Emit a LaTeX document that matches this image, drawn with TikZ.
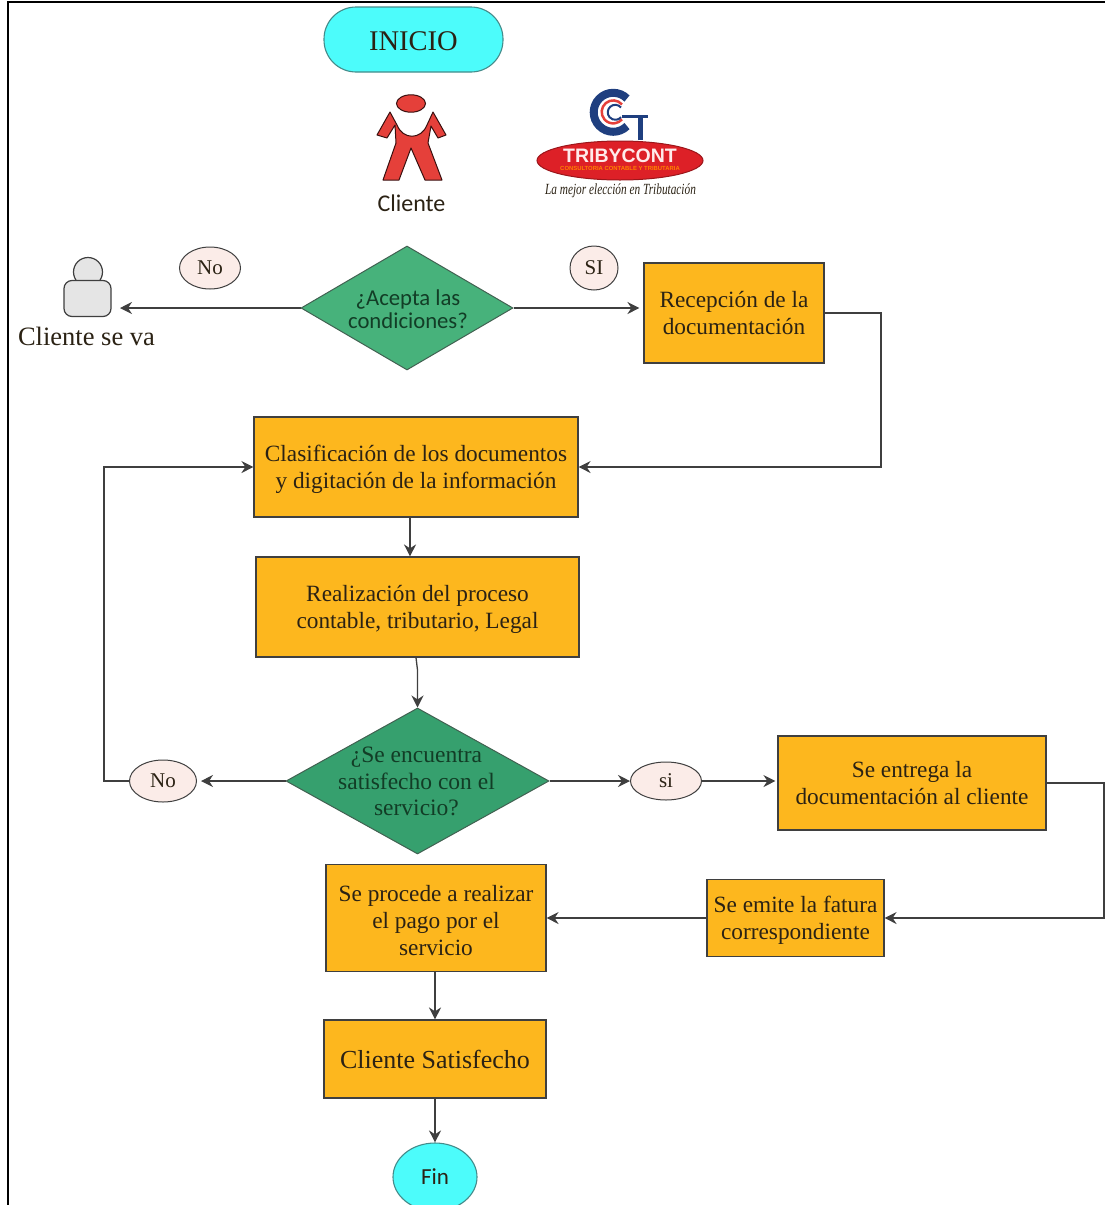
\documentclass[tikz,border=0pt]{standalone}
\usepackage{fontspec}
\setmainfont{Liberation Serif}
\newfontfamily\cuisans{Carlito}
\newfontfamily\logosans{Liberation Sans}
\usetikzlibrary{arrows.meta,shapes.geometric}
\definecolor{boxfill}{HTML}{FDB71E}
\definecolor{dia1}{HTML}{47B27B}
\definecolor{dia2}{HTML}{36A06E}
\definecolor{cyanfill}{HTML}{4CFCFB}
\definecolor{ink}{HTML}{3F3F3F}
\definecolor{txt}{HTML}{2B2214}
\definecolor{greentxt}{HTML}{123D26}
\definecolor{pinkfill}{HTML}{FBECE8}
\definecolor{manred}{HTML}{E5403A}
\definecolor{logoblue}{HTML}{1F3F7F}
\definecolor{logored}{HTML}{DD2027}
\newcommand{\lowered}{\rule{0pt}{20.5pt}}
\tikzset{
  x=1pt,y=-1pt,
  procbox/.style={draw=ink,line width=1.1pt,fill=boxfill,rectangle,inner sep=0pt,align=center,text=txt,font=\fontsize{23.3}{27}\selectfont},
  diam/.style={draw=ink!70!dia1,line width=1pt,diamond,inner sep=0pt,aspect=1.7},
  diamtxt/.style={align=center,text=greentxt,font=\fontsize{23.5}{26.5}\selectfont,inner sep=0pt},
  tag/.style={draw=ink,line width=1pt,fill=pinkfill,ellipse,inner sep=0pt,text=txt,font=\fontsize{21}{22}\selectfont},
  term/.style={draw=ink!60!cyanfill,line width=1.1pt,fill=cyanfill,inner sep=0pt,text=txt},
  flow/.style={draw=ink,line width=1.3pt,-{Stealth[length=12pt,width=12pt]}},
}
\begin{document}
\begin{tikzpicture}
\useasboundingbox (0,0) rectangle (1105,1205);
% frame
\draw[black,line width=2pt] (7.5,1205) -- (7.5,2) -- (1105,2);
% terminals
\node[term,rounded corners=32pt,minimum width=179pt,minimum height=65pt,font=\fontsize{28.5}{30}\selectfont] (inicio) at (413.5,39.5) {\rule{0pt}{21.5pt}INICIO};
\node[term,ellipse,minimum width=84pt,minimum height=68pt,font=\cuisans\fontsize{23}{26}\selectfont] (fin) at (435,1177) {Fin};
% client figure
\draw[fill=manred,draw=black!75!manred,line width=1pt] (411,103.5) ellipse [x radius=14.5,y radius=8.7];
\draw[fill=manred,draw=black!75!manred,line width=1pt,line join=round]
  (390,112) -- (377,135) -- (387,138) -- (395,125) -- (396,143) -- (383,180) -- (399,180) -- (411,148)
  -- (425,180) -- (442,180) -- (428,143) -- (431,126) -- (438,138) -- (446,135) -- (433,112) -- (427,125)
  .. controls (421,140) and (403,140) .. (397,125) -- cycle;
\node[font=\cuisans\fontsize{24}{26}\selectfont,text=txt,inner sep=0pt] (clientelbl) at (411.5,203.5) {Cliente};
% logo
\draw[logoblue,line width=8pt] (627,98.5) arc [start angle=-45,end angle=-315,radius=19.5];
\draw[manred,line width=2.5pt] (622,104.5) arc [start angle=-40,end angle=-320,radius=11.5];
\draw[logoblue,line width=2pt] (621,107.5) arc [start angle=-40,end angle=-320,radius=7.5];
\draw[logoblue,line width=3pt] (622,116) -- (648,116);
\draw[logoblue,line width=5pt] (640,116) -- (640,140);
\draw[fill=logored,draw=black!30!logored,line width=1pt] (620,160.5) ellipse [x radius=83,y radius=19.5];
\node[text=white!92!red,inner sep=0pt,font=\logosans\bfseries\fontsize{19.5}{22}\selectfont] (logoname) at (620,155.5) {TRIBYCONT};
\node[text=orange,inner sep=0pt,font=\logosans\bfseries\fontsize{5.9}{6}\selectfont] (logosub) at (620,168.5) {CONSULTORIA CONTABLE Y TRIBUTARIA};
\node[text=txt,inner sep=0pt,font=\itshape\fontsize{15.5}{17}\selectfont] (logotag) at (620.5,190.5) {\scalebox{0.73}[1]{La mejor elección en Tributación}};
% gone client
\draw[draw=ink,fill=black!10,line width=1.2pt] (88,272) circle [radius=14.5];
\node[draw=ink,fill=black!10,line width=1.2pt,rectangle,rounded corners=8pt,minimum width=47pt,minimum height=36pt,inner sep=0pt] (gonebody) at (87.5,298.5) {};
\coordinate (gonearrow) at (120,308);
\node[font=\fontsize{26.5}{28}\selectfont,text=txt,inner sep=0pt] (golbl) at (86.5,336.5) {Cliente se va};
% decision 1
\node[diam,fill=dia1,minimum width=212pt,minimum height=124pt] (d1) at (407,308) {};
\node[diamtxt,font=\cuisans\fontsize{22.7}{22}\selectfont] (d1t) at (408,309) {¿Acepta las\\[0.5pt]condiciones?};
\node[tag,minimum width=61pt,minimum height=42pt] (no1) at (210,268) {No};
\node[tag,minimum width=48pt,minimum height=44pt] (si1) at (594,268) {SI};
% boxes
\node[procbox,minimum width=180pt,minimum height=100pt] (recep) at (734,313) {Recepción de la\\documentación};
\node[procbox,minimum width=324pt,minimum height=100pt] (clas) at (416,467) {\lowered Clasificación de los documentos\\y digitación de la información};
\node[procbox,minimum width=323pt,minimum height=100pt] (real) at (417.5,607) {\lowered Realización del proceso\\contable, tributario, Legal};
\node[diam,fill=dia2,minimum width=263pt,minimum height=146pt] (d2) at (417.5,781) {};
\node[diamtxt] (d2t) at (416.5,781.5) {¿Se encuentra\\satisfecho con el\\servicio?};
\node[tag,minimum width=67pt,minimum height=42pt] (no2) at (163,781) {No};
\node[tag,minimum width=71pt,minimum height=38pt] (si2) at (666,781) {si};
\node[procbox,minimum width=268pt,minimum height=94pt] (entrega) at (912,783) {Se entrega la\\documentación al cliente};
\node[procbox,minimum width=177pt,minimum height=77pt] (emite) at (795.5,918) {\lowered Se emite la fatura\\correspondiente};
\node[procbox,minimum width=220pt,minimum height=107pt] (pago) at (436,918) {\lowered Se procede a realizar\\el pago por el\\servicio};
\node[procbox,minimum width=222pt,minimum height=78pt,font=\fontsize{26}{30}\selectfont] (satis) at (435,1059) {Cliente Satisfecho};
% connectors
\draw[flow] (d1.west) -- (gonearrow);
\draw[flow,shorten >=4pt] (d1.east) -- (recep.west |- d1.east);
\draw[flow] (recep.east) -- (881,313) -- (881,467) -- (clas.east);
\draw[flow] (clas.south -| 410,0) -- (real.north -| 410,0);
\draw[flow] (416,657.5) -- (417.5,670) -- (d2.north);
\draw[flow,shorten >=4pt] (d2.west) -- (no2.east);
\draw[flow] (no2.west) -- (104,781) -- (104,467) -- (clas.west);
\draw[flow] (d2.east) -- (si2.west);
\draw[flow,shorten >=2pt] (si2.east) -- (entrega.west |- si2.east);
\draw[flow] (entrega.east) -- (1104,783) -- (1104,918) -- (emite.east);
\draw[flow] (emite.west) -- (pago.east);
\draw[flow] (pago.south -| satis.north) -- (satis.north);
\draw[flow] (satis.south) -- (fin.north);
\end{tikzpicture}
\end{document}
